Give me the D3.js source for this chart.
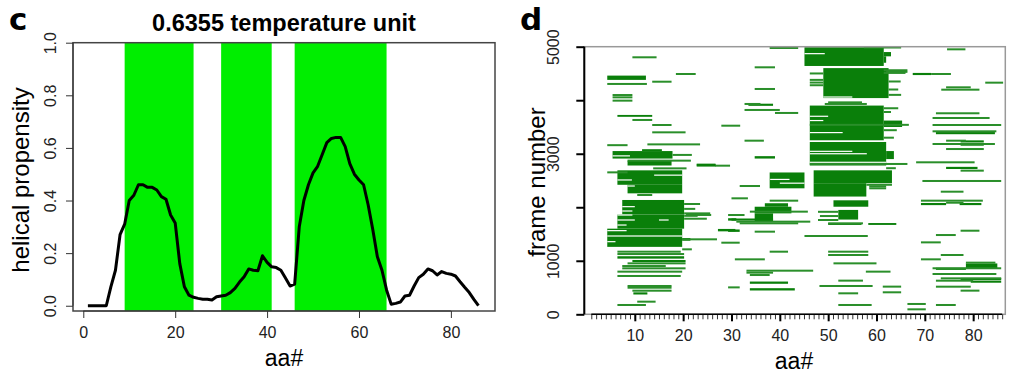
<!DOCTYPE html>
<html>
<head>
<meta charset="utf-8">
<script src="https://cdn.jsdelivr.net/npm/d3@7"></script>
<style>
	body { margin: 0; background: #fff; }
	svg { display: block; font-family: "Liberation Sans", Arial, sans-serif; }
</style>
</head>
<body>
<svg id="chart" width="1024" height="388"></svg>
<script>

// panel c - helical propensity per residue (aa 1..86)
const propensity = [
	0, 0, 0, 0, 0, 0.072, 0.135, 0.27, 0.31, 0.40,
	0.42, 0.46, 0.46, 0.45, 0.45, 0.44, 0.415, 0.405, 0.345, 0.315,
	0.16, 0.072, 0.04, 0.032, 0.028, 0.025, 0.025, 0.022, 0.034, 0.037,
	0.04, 0.05, 0.066, 0.09, 0.11, 0.14, 0.135, 0.133, 0.19, 0.165,
	0.148, 0.145, 0.135, 0.105, 0.075, 0.082, 0.30, 0.40, 0.46, 0.505,
	0.53, 0.575, 0.62, 0.636, 0.64, 0.64, 0.605, 0.54, 0.50, 0.478,
	0.46, 0.383, 0.29, 0.186, 0.135, 0.06, 0.006, 0.009, 0.014, 0.037,
	0.04, 0.075, 0.107, 0.12, 0.14, 0.133, 0.117, 0.13, 0.123, 0.12,
	0.113, 0.091, 0.07, 0.05, 0.024, 0
];
const helixBands = [[9, 24], [30, 41], [46, 66]];
const propTicks = [0, 0.2, 0.4, 0.6, 0.8, 1.0];
const aaTicksC = [0, 20, 40, 60, 80];
const titleC = '0.6355 temperature unit';

// panel d - helical stretches per frame
const frameTicks = [0, 1000, 2000, 3000, 4000, 5000];
const frameLabels = [0, 1000, 3000, 5000];
const aaTicksD = [10, 20, 30, 40, 50, 60, 70, 80];

// [frame from, frame to, aa from, aa to]
const helixBlocks = [
	[4380, 4460, 4.3, 12.3], [3690, 3725, 6.4, 13.6], [3050, 3085, 11.5, 15.6],
	[2910, 3050, 5.4, 17.8], [2780, 2870, 8.5, 17.6], [2780, 2815, 22.8, 26.7],
	[2420, 2690, 6.4, 19.8], [2260, 2420, 8.5, 19.8], [1865, 2136, 7.4, 20.2],
	[1600, 1865, 6.4, 20.2], [1260, 1600, 4.3, 19.8], [370, 410, 9.7, 12.6],
	[1375, 1425, 19.8, 21.5], [1040, 1085, 6.4, 20.2], [975, 1015, 9.5, 20.5],
	[2354, 2650, 37.9, 45.1], [2010, 2075, 36.9, 41.7], [1886, 2010, 34.8, 42.4],
	[1735, 1886, 34.8, 38.6], [1750, 1790, 30, 38.6], [3895, 3935, 33.5, 38.6],
	[2910, 2955, 34.8, 39], [1750, 1795, 29.3, 31], [1540, 1585, 29.3, 31.7],
	[570, 612, 33.8, 41.7], [445, 488, 33.8, 43.1], [1550, 1595, 27.2, 30.8],
	[4640, 4990, 45.1, 61.5], [4820, 4900, 61.5, 63], [4700, 4820, 61.5, 62],
	[4040, 4600, 49, 62.5], [3250, 3900, 46.2, 61.5], [3500, 3620, 61.5, 65.3],
	[2780, 3220, 46.2, 62], [2900, 3050, 62, 63.6], [2450, 2690, 47, 63.2],
	[2200, 2450, 47, 57.9], [2010, 2130, 51.1, 58.3], [1770, 1950, 52.1, 56.2],
	[1670, 1705, 50, 56.9], [1670, 1705, 58.3, 64.1], [4470, 4510, 67.5, 71.3],
	[850, 950, 78.5, 85], [3365, 3405, 72.3, 84.5], [3210, 3250, 77.4, 82.2],
	[3150, 3190, 77.4, 82.2], [2715, 2755, 74.4, 80.9], [2040, 2080, 69.2, 74.4],
	[2040, 2080, 77.2, 81.7], [830, 870, 72.3, 78.5], [640, 680, 77.4, 85.8],
	[590, 630, 79.5, 85.8], [2760, 2800, 22.8, 26.8]
];

// [frame, aa from, aa to]
const helixLines = [
	[4802, 9.5, 14.5], [4490, 18.5, 22.6], [4346, 13.6, 17.6], [4304, 4.3, 12.5],
	[4097, 5.4, 9.5], [4054, 5.4, 9.5], [3992, 5.4, 9.5], [3631, 9.5, 13.6],
	[3537, 13.6, 17.6], [3400, 13.6, 20.5], [3160, 4.3, 8.5], [3175, 12.6, 23.5],
	[2978, 17.8, 21.8], [2871, 8.5, 21.6], [2777, 26.7, 29.7], [2727, 13.8, 20.7],
	[2652, 4.3, 8.5], [2229, 10.5, 13.6], [2061, 20.2, 23.5], [1970, 20.2, 22.5],
	[1886, 20.2, 25.6], [1840, 20.2, 23], [1786, 20.2, 24.9], [1401, 19.8, 27],
	[1214, 19.8, 21.8], [1170, 6.4, 19.5], [1126, 6.4, 20.2], [952, 8.5, 20.5],
	[902, 7.4, 16.4], [859, 7.4, 20.5], [797, 6.4, 19.8], [716, 6.4, 19.5],
	[529, 8.5, 17.6], [497, 8.5, 17.6], [441, 9.5, 17.6], [236, 10.5, 14.3],
	[174, 6.4, 12.3], [2167, 30, 33.4], [1338, 27.9, 31.7], [2397, 31.7, 35.9],
	[3524, 27.9, 31.8], [1856, 20.6, 25.8],
	[4976, 37.9, 43.8], [4615, 34.8, 39], [4210, 34.8, 39], [3930, 32.7, 36],
	[3818, 32.7, 40], [3762, 39, 43.8], [3244, 32.7, 36.7], [2123, 37.9, 43.8],
	[1918, 33.8, 45.8], [1855, 29.3, 32.7], [1731, 31, 46.3], [1700, 31.7, 43.8],
	[1544, 34.8, 39], [1463, 45.1, 58.2], [1170, 37.9, 41.7], [1027, 30.7, 36.9],
	[815, 33.1, 46.9], [778, 33.1, 38.6], [734, 33.8, 37.9], [503, 29.3, 31.7],
	[4985, 57.4, 65.1], [4560, 61.5, 66.4], [4530, 62, 66.4], [4510, 61.5, 66],
	[4490, 71.3, 75.4], [4500, 46.2, 49], [4380, 46.2, 49], [4330, 46.2, 49],
	[4280, 46.2, 49], [4350, 62.5, 65], [4200, 62.5, 64.5], [4100, 62.5, 65.1],
	[3960, 50, 57], [3930, 49.3, 58], [3850, 61.5, 64.5], [3780, 61.5, 63],
	[3540, 46.2, 66.7], [3440, 61.5, 64.2], [3300, 61.5, 63.6], [2809, 46.2, 66.4],
	[2730, 62, 64], [2420, 57.9, 63.2], [2390, 58.5, 62], [2354, 58.5, 62],
	[1915, 47.9, 52.1], [1836, 48.3, 52.1], [1762, 47.9, 52.1], [1700, 50, 57.2],
	[1170, 50, 58.3], [1108, 50, 58.3], [952, 51.1, 60], [797, 57.8, 62.9],
	[629, 52.1, 57.2], [529, 48.2, 59.2], [517, 61.3, 65.1], [411, 61.3, 65.1],
	[392, 52.1, 56.2], [174, 52.1, 59],
	[4951, 74.6, 78.4], [4328, 82.5, 86.2], [4241, 74.4, 79.5], [4197, 73.4, 81.3],
	[3756, 72.3, 81.3], [3668, 71.6, 83.4], [3537, 71.6, 85.8], [3419, 71.6, 84.8],
	[3244, 74.4, 78.5], [3182, 71.6, 84.5], [3088, 74.4, 82.2], [2840, 68.2, 80.3],
	[2684, 77.4, 82.2], [2491, 69.5, 85.8], [2291, 73.3, 78], [2123, 69.2, 82],
	[2085, 74.4, 78], [1562, 77.4, 81.3], [1481, 72.3, 76.4], [1344, 69.2, 73.3],
	[1108, 73.3, 78], [1027, 69.2, 73.3], [965, 78.5, 84.6], [860, 71.6, 85.8],
	[753, 71.6, 84.8], [672, 73.3, 85.8], [628, 72.3, 80], [516, 72.3, 79.5],
	[442, 77.4, 81.3], [193, 66.4, 70.2], [93, 66.4, 70.2], [174, 72.3, 76.4]
];

// white rows breaking up the solid stretches: [frame, aa from, aa to]
const blockGaps = [
	[2510, 6.4, 9.4], [2397, 8.5, 10], [2011, 7.4, 10], [1930, 7.4, 9.5],
	[1855, 6.4, 9.5], [1762, 6.4, 10], [1762, 15, 17], [1668, 6.4, 8.3],
	[1563, 4.3, 8.3], [1463, 4.3, 19.8], [1357, 4.3, 6], [2600, 14, 19.8],
	[2960, 5.4, 9], [4626, 45.1, 52], [4870, 45.1, 49.3], [3620, 46.2, 49],
	[3395, 46.2, 53], [3231, 46.2, 61.5], [3045, 46.2, 55], [2840, 46.2, 62],
	[3700, 46.2, 50], [4060, 49, 55], [3000, 46.2, 58], [2520, 38, 42],
	[2450, 40, 45.1]
];

const chart = {

	init: function() {

		this.svg = d3.select('#chart');
		this.panelC();
		this.panelD();
	},

	panelC: function() {

		let svg = this.svg;

		// 1. scales - box 73..495 / 42.7..311
		let x = d3.scaleLinear().domain([-2.24, 89.6]).range([73, 495]);
		let y = d3.scaleLinear().domain([-0.02, 1.0]).range([311, 42.7]);

		// 2. helix bands
		svg.append('g').selectAll('rect')
		.data(helixBands)
		.enter().append('rect')
		.attr('x', d => x(d[0]))
		.attr('width', d => x(d[1]) - x(d[0]))
		.attr('y', y.range()[1])
		.attr('height', y.range()[0] - y.range()[1])
		.attr('fill', '#00ee00');

		// 3. the propensity line
		let line = d3.line()
		.x((d, i) => x(i + 1))
		.y(d => y(d));

		svg.append('path')
		.datum(propensity)
		.attr('d', line)
		.attr('fill', 'none')
		.attr('stroke', '#000')
		.attr('stroke-width', 3)
		.attr('stroke-linejoin', 'round');

		// 4. box
		svg.append('rect')
		.attr('x', x.range()[0]).attr('y', y.range()[1])
		.attr('width', x.range()[1] - x.range()[0])
		.attr('height', y.range()[0] - y.range()[1])
		.attr('fill', 'none').attr('stroke', '#444').attr('stroke-width', 1.5);

		// 5. y axis
		let gy = svg.append('g')
		.attr('transform', 'translate(73,0)')
		.call(d3.axisLeft(y).tickValues(propTicks).tickSize(7).tickFormat(d3.format('.1f')));
		gy.select('.domain').remove();
		gy.append('line').attr('y1', y(0)).attr('y2', y(1)).attr('stroke', '#333');
		gy.selectAll('line').attr('stroke', '#333');
		gy.selectAll('text')
		.attr('x', null).attr('dy', '0.35em')
		.attr('transform', 'translate(-23,0) rotate(-90)')
		.attr('text-anchor', 'middle')
		.attr('font-size', 16).attr('font-family', null).attr('fill', '#222');

		// 6. x axis
		let gx = svg.append('g')
		.attr('transform', 'translate(0,311)')
		.call(d3.axisBottom(x).tickValues(aaTicksC).tickSize(7));
		gx.select('.domain').remove();
		gx.append('line').attr('x1', x(0)).attr('x2', x(80)).attr('stroke', '#333');
		gx.selectAll('line').attr('stroke', '#333');
		gx.selectAll('text')
		.attr('y', 27).attr('dy', null)
		.attr('font-size', 16).attr('font-family', null).attr('fill', '#222');

		// 7. labels
		svg.append('text').attr('x', 284).attr('y', 31)
		.attr('text-anchor', 'middle').attr('font-size', 23.5).attr('font-weight', 'bold')
		.text(titleC);

		svg.append('text').attr('x', 284).attr('y', 366)
		.attr('text-anchor', 'middle').attr('font-size', 23)
		.text('aa#');

		svg.append('text').attr('transform', 'translate(29,180) rotate(-90)')
		.attr('text-anchor', 'middle').attr('font-size', 24)
		.text('helical propensity');

		svg.append('text').attr('x', 9).attr('y', 30)
		.attr('font-family', 'DejaVu Sans').attr('font-weight', 'bold').attr('font-size', 31)
		.text('c');
	},

	panelD: function() {

		let svg = this.svg;

		// 1. scales - box 584.3..1005.3 / 46.7..314.3
		let x = d3.scaleLinear().domain([-0.45, 86.65]).range([584.3, 1005.3]);
		let y = d3.scaleLinear().domain([0, 5000]).range([314.3, 46.7]);

		svg.append('clipPath').attr('id', 'clipD')
		.append('rect')
		.attr('x', x.range()[0]).attr('y', y.range()[1])
		.attr('width', x.range()[1] - x.range()[0])
		.attr('height', y.range()[0] - y.range()[1]);

		let g = svg.append('g').attr('clip-path', 'url(#clipD)');

		// 2. solid stretches
		g.append('g').selectAll('rect')
		.data(helixBlocks)
		.enter().append('rect')
		.attr('x', d => x(d[2]))
		.attr('width', d => x(d[3]) - x(d[2]))
		.attr('y', d => y(d[1]))
		.attr('height', d => y(d[0]) - y(d[1]))
		.attr('fill', '#0a7f0a');

		// 3. gaps
		g.append('g').selectAll('rect')
		.data(blockGaps)
		.enter().append('rect')
		.attr('x', d => x(d[1]))
		.attr('width', d => x(d[2]) - x(d[1]))
		.attr('y', d => y(d[0]) - 0.6)
		.attr('height', 1.2)
		.attr('fill', '#fff');

		// 4. single frames
		g.append('g').selectAll('rect')
		.data(helixLines)
		.enter().append('rect')
		.attr('x', d => x(d[1]))
		.attr('width', d => x(d[2]) - x(d[1]))
		.attr('y', d => y(d[0]) - 1)
		.attr('height', 2)
		.attr('fill', '#2a8f2a');

		// 5. box
		svg.append('rect')
		.attr('x', x.range()[0]).attr('y', y.range()[1])
		.attr('width', x.range()[1] - x.range()[0])
		.attr('height', y.range()[0] - y.range()[1])
		.attr('fill', 'none').attr('stroke', '#999').attr('stroke-width', 1.5);

		// 6. y axis
		let gy = svg.append('g')
		.attr('transform', 'translate(584.3,0)')
		.call(d3.axisLeft(y).tickValues(frameTicks).tickSize(8)
			.tickFormat(d => frameLabels.indexOf(d) >= 0 ? d : ''));
		gy.select('.domain').remove();
		gy.append('line').attr('y1', y(0)).attr('y2', y(5000)).attr('stroke', '#000').attr('stroke-width', 2);
		gy.selectAll('.tick line').attr('stroke', '#000').attr('stroke-width', 2);
		gy.selectAll('text')
		.attr('x', null).attr('dy', '0.35em')
		.attr('transform', 'translate(-30.6,0) rotate(-90)')
		.attr('text-anchor', 'middle')
		.attr('font-size', 16).attr('font-family', null).attr('fill', '#222');

		// 7. x axis, minor ticks then the labelled ones
		let gm = svg.append('g')
		.attr('transform', 'translate(0,314.3)')
		.call(d3.axisBottom(x).tickValues(d3.range(1, 87)).tickSize(5).tickFormat(''));
		gm.select('.domain').remove();
		gm.append('line').attr('x1', x(1)).attr('x2', x(86)).attr('stroke', '#000').attr('stroke-width', 1.5);
		gm.selectAll('.tick line').attr('stroke', '#333');

		let gx = svg.append('g')
		.attr('transform', 'translate(0,314.3)')
		.call(d3.axisBottom(x).tickValues(aaTicksD).tickSize(7));
		gx.select('.domain').remove();
		gx.selectAll('line').attr('stroke', '#000').attr('stroke-width', 2);
		gx.selectAll('text')
		.attr('y', 27).attr('dy', null)
		.attr('font-size', 16).attr('font-family', null).attr('fill', '#222');

		// 8. labels
		svg.append('text').attr('x', 794).attr('y', 369)
		.attr('text-anchor', 'middle').attr('font-size', 23)
		.text('aa#');

		svg.append('text').attr('transform', 'translate(545,182) rotate(-90)')
		.attr('text-anchor', 'middle').attr('font-size', 24)
		.text('frame number');

		svg.append('text').attr('x', 520).attr('y', 29.5)
		.attr('font-family', 'DejaVu Sans').attr('font-weight', 'bold').attr('font-size', 31)
		.text('d');
	}
};

chart.init();

</script>
</body>
</html>
